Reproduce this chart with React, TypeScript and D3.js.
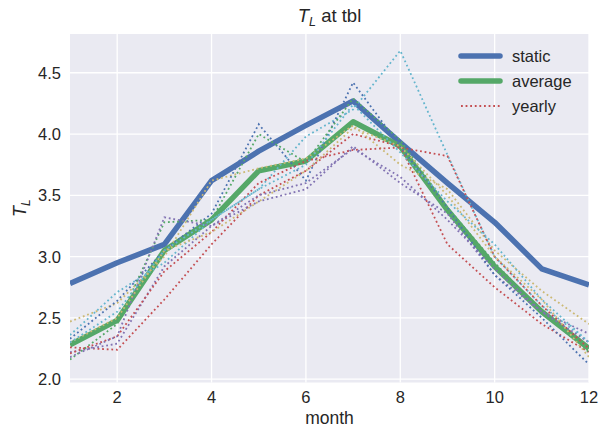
import React from "react";
import * as d3 from "d3";

const months = [1, 2, 3, 4, 5, 6, 7, 8, 9, 10, 11, 12];
const staticVals = [2.78, 2.95, 3.1, 3.62, 3.86, 4.07, 4.27, 3.93, 3.6, 3.28, 2.9, 2.77];
const averageVals = [2.28, 2.48, 3.05, 3.3, 3.7, 3.78, 4.1, 3.9, 3.38, 2.92, 2.55, 2.25];
const yearlyVals = [
  [2.26, 2.24, 2.65, 3.1, 3.5, 3.7, 4.0, 3.9, 3.1, 2.75, 2.45, 2.22],
  [2.22, 2.29, 2.92, 3.25, 3.45, 3.55, 3.9, 3.6, 3.35, 2.85, 2.55, 2.37],
  [2.47, 2.62, 3.0, 3.62, 3.72, 3.8, 4.07, 3.75, 3.55, 3.05, 2.72, 2.45],
  [2.36, 2.71, 2.95, 3.3, 3.55, 3.98, 4.2, 4.68, 3.83, 3.0, 2.6, 2.3],
  [2.33, 2.64, 3.05, 3.35, 4.08, 3.62, 4.42, 3.9, 3.4, 2.85, 2.5, 2.12],
  [2.16, 2.45, 3.28, 3.3, 4.0, 3.77, 4.29, 3.95, 3.4, 2.95, 2.55, 2.22],
  [2.21, 2.35, 2.88, 3.2, 3.6, 3.78, 3.87, 3.89, 3.82, 3.0, 2.6, 2.25],
  [2.18, 2.35, 3.32, 3.25, 3.5, 3.6, 3.88, 3.65, 3.3, 2.9, 2.55, 2.3],
  [2.3, 2.5, 3.05, 3.2, 3.45, 3.7, 4.05, 3.9, 3.5, 3.0, 2.65, 2.18],
  [2.3, 2.55, 3.05, 3.3, 3.55, 3.75, 4.24, 3.85, 3.45, 3.1, 2.65, 2.3],
];
const yearlyColors = ["#C44E52", "#8172B2", "#CCB974", "#64B5CD", "#4C72B0", "#55A868"];
const xTicks = [2, 4, 6, 8, 10, 12];
const yTicks = [2.0, 2.5, 3.0, 3.5, 4.0, 4.5];
const legendItems = ["static", "average", "yearly"];

export default function App() {
  const W = 600, H = 430;
  const left = 70, right = 589, top = 34, bottom = 382.5;
  const x = d3.scaleLinear().domain([1, 12]).range([left, right]);
  const y = d3.scaleLinear().domain([1.973, 4.816]).range([bottom, top]);
  const line = d3.line<number>().x((_, i) => x(months[i])).y((d) => y(d));
  const font = "'Liberation Sans', Arial, sans-serif";
  const txt = "#262626";
  const dash = "1.8,2.8";
  const legendStyles = [
    { color: "#4C72B0", w: 5.5, dash: undefined },
    { color: "#55A868", w: 5.5, dash: undefined },
    { color: "#C44E52", w: 1.8, dash },
  ];
  return (
    <svg width={W} height={H} style={{ position: "absolute", left: 0, top: 0 }} fontFamily={font}>
      <defs>
        <clipPath id="clip">
          <rect x={left} y={top} width={right - left} height={bottom - top} />
        </clipPath>
      </defs>
      <rect x={0} y={0} width={W} height={H} fill="white" />
      <rect x={left} y={top} width={right - left} height={bottom - top} fill="#EAEAF2" />
      {xTicks.map((t) => (
        <line key={"gx" + t} x1={x(t)} x2={x(t)} y1={top} y2={bottom} stroke="white" strokeWidth={1.3} />
      ))}
      {yTicks.map((t) => (
        <line key={"gy" + t} x1={left} x2={right} y1={y(t)} y2={y(t)} stroke="white" strokeWidth={1.3} />
      ))}
      <g clipPath="url(#clip)">
        <path d={line(staticVals) || ""} fill="none" stroke="#4C72B0" strokeWidth={5.5} strokeLinejoin="round" />
        <path d={line(averageVals) || ""} fill="none" stroke="#55A868" strokeWidth={5.5} strokeLinejoin="round" />
        {yearlyVals.map((vals, i) => (
          <path
            key={"yr" + i}
            d={line(vals) || ""}
            fill="none"
            stroke={yearlyColors[i % yearlyColors.length]}
            strokeWidth={1.8}
            strokeDasharray={dash}
          />
        ))}
      </g>
      {xTicks.map((t) => (
        <text key={"tx" + t} x={x(t)} y={403} textAnchor="middle" fontSize={16.5} fill={txt}>
          {t}
        </text>
      ))}
      {yTicks.map((t) => (
        <text key={"ty" + t} x={61} y={y(t) + 6} textAnchor="end" fontSize={16.5} fill={txt}>
          {t.toFixed(1)}
        </text>
      ))}
      <text x={(left + right) / 2} y={424} textAnchor="middle" fontSize={17.5} fill={txt}>
        month
      </text>
      <text transform={`translate(26,${(top + bottom) / 2}) rotate(-90)`} textAnchor="middle" fontSize={18} fill={txt}>
        <tspan fontStyle="italic">T</tspan>
        <tspan fontStyle="italic" fontSize={12} dy={4}>L</tspan>
      </text>
      <text x={(left + right) / 2} y={22} textAnchor="middle" fontSize={18.5} fill={txt}>
        <tspan fontStyle="italic">T</tspan>
        <tspan fontStyle="italic" fontSize={12.5} dy={4}>L</tspan>
        <tspan dy={-4}> at tbl</tspan>
      </text>
      {legendItems.map((name, i) => {
        const ly = 56 + i * 25;
        const s = legendStyles[i];
        return (
          <g key={"lg" + name}>
            <line x1={461} x2={500} y1={ly} y2={ly} stroke={s.color} strokeWidth={s.w} strokeDasharray={s.dash} strokeLinecap={s.dash ? "butt" : "round"} />
            <text x={512} y={ly + 6} fontSize={16.5} fill={txt}>
              {name}
            </text>
          </g>
        );
      })}
    </svg>
  );
}
